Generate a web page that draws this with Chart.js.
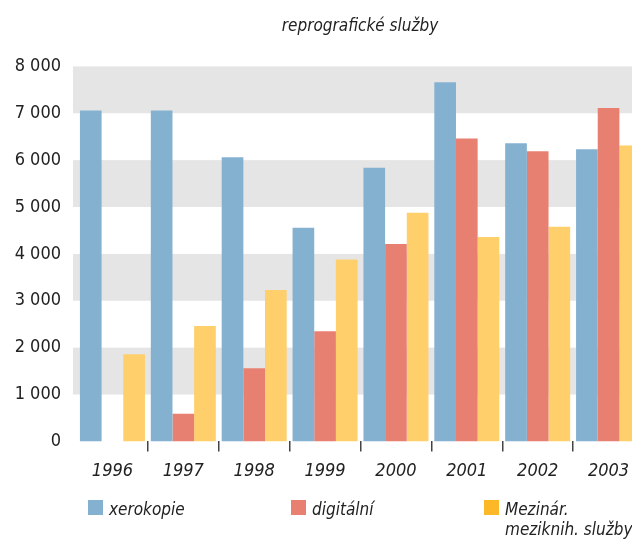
<!DOCTYPE html>
<html>
<head>
<meta charset="utf-8">
<script src="https://cdn.jsdelivr.net/npm/chart.js@4"></script>
<style>
  html, body { margin: 0; padding: 0; background: #fff; overflow: hidden; }
  #wrap { width: 720px; height: 541px; }
</style>
</head>
<body>
<div id="wrap"><canvas id="chart" width="720" height="541"></canvas></div>
<script>
const years = ['1996', '1997', '1998', '1999', '2000', '2001', '2002', '2003'];
const xerokopie = [7060, 7060, 6060, 4560, 5840, 7660, 6360, 6230];
const digitalni = [null, 590, 1560, 2350, 4210, 6460, 6190, 7110];
const mezinar = [1860, 2460, 3230, 3880, 4880, 4360, 4580, 6310];
const bandStarts = [1000, 3000, 5000, 7000];

const FONT = "'DejaVu Sans Condensed', 'Liberation Sans Narrow', sans-serif";
const TEXT = '#222';

// grey bands behind the bars
const bands = {
    id: 'bands',
    beforeDatasetsDraw(chart) {
        const { ctx, chartArea } = chart;
        const y = chart.scales.y;
        ctx.save();
        ctx.fillStyle = '#e5e5e5';
        bandStarts.forEach(v => {
            const top = y.getPixelForValue(v + 1000);
            const bottom = y.getPixelForValue(v);
            ctx.fillRect(chartArea.left - 4, top, chartArea.right - chartArea.left + 4, bottom - top);
        });
        ctx.restore();
    }
};

// legend laid out like the original: fixed columns, last label on two lines
const legendX = [88, 291, 484];
const legendColors = ['#84b1d0', '#e88072', '#fcb827'];
const bottomLegend = {
    id: 'bottomLegend',
    afterDraw(chart) {
        const ctx = chart.ctx;
        ctx.save();
        ctx.font = 'italic 17px ' + FONT;
        ctx.textBaseline = 'alphabetic';
        chart.data.datasets.forEach((ds, i) => {
            const x = legendX[i];
            ctx.fillStyle = legendColors[i];
            ctx.fillRect(x, 500, 15, 15);
            ctx.fillStyle = TEXT;
            const lines = Array.isArray(ds.label) ? ds.label : [ds.label];
            lines.forEach((t, j) => ctx.fillText(t, x + 21, 515 + j * 20));
        });
        ctx.restore();
    }
};

new Chart(document.getElementById('chart'), {
    type: 'bar',
    plugins: [bands, bottomLegend],
    data: {
        labels: years,
        datasets: [
            { label: 'xerokopie', data: xerokopie, backgroundColor: '#84b1d0' },
            { label: 'digitální', data: digitalni, backgroundColor: '#e88072' },
            { label: ['Mezinár.', 'meziknih. služby'], data: mezinar, backgroundColor: '#fecf6b' }
        ]
    },
    options: {
        responsive: false,
        animation: false,
        layout: { padding: { left: 0, right: 0, top: 0, bottom: 50 } },
        datasets: {
            bar: { categoryPercentage: 0.917, barPercentage: 1.0 }
        },
        plugins: {
            title: {
                display: true,
                text: 'reprografické služby',
                color: TEXT,
                font: { family: FONT, size: 17, style: 'italic', weight: 'normal' },
                padding: { top: 16, bottom: 30 }
            },
            legend: { display: false },
            tooltip: { enabled: false }
        },
        scales: {
            x: {
                border: { display: false },
                grid: {
                    drawOnChartArea: false,
                    drawTicks: true,
                    tickLength: 10,
                    lineWidth: 1.5,
                    color: ctx => ctx.index === 0 ? 'rgba(0,0,0,0)' : '#444'
                },
                ticks: {
                    color: TEXT,
                    padding: 9,
                    font: { family: FONT, size: 18, style: 'italic' }
                }
            },
            y: {
                min: 0,
                max: 8000,
                border: { display: false },
                grid: { display: false },
                afterFit(scale) { scale.width = 77; },
                ticks: {
                    stepSize: 1000,
                    autoSkip: false,
                    color: TEXT,
                    padding: 8,
                    font: { family: FONT, size: 18 },
                    callback: v => String(v).replace(/\B(?=(\d{3})+(?!\d))/g, ' ')
                }
            },
            // empty right-hand axis: keeps the plot the same width as the original page
            yRight: {
                position: 'right',
                min: 0,
                max: 8000,
                border: { display: false },
                grid: { display: false },
                ticks: { display: false },
                afterFit(scale) { scale.width = 76; }
            }
        }
    }
});
</script>
</body>
</html>
